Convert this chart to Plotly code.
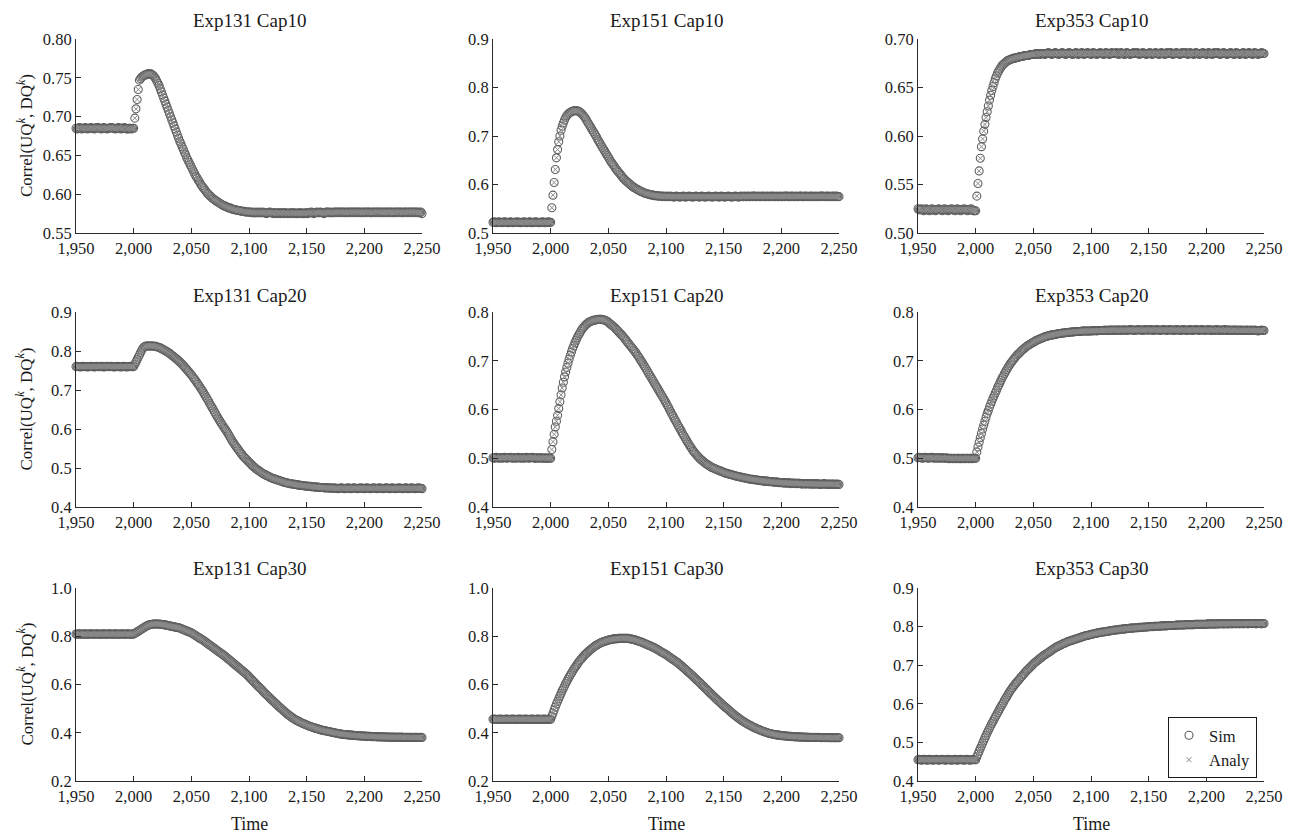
import plotly.graph_objects as go

# ---------------- data (values in thousandths, one per year 1950..2250) ----------------
years = list(range(1950, 2251))

titles = ["Exp131 Cap10", "Exp151 Cap10", "Exp353 Cap10",
          "Exp131 Cap20", "Exp151 Cap20", "Exp353 Cap20",
          "Exp131 Cap30", "Exp151 Cap30", "Exp353 Cap30"]

x_ticks = [1950, 2000, 2050, 2100, 2150, 2200, 2250]

y_ranges = [(0.55, 0.80), (0.5, 0.9), (0.50, 0.70),
            (0.4, 0.9), (0.4, 0.8), (0.4, 0.8),
            (0.2, 1.0), (0.2, 1.0), (0.4, 0.9)]
y_dticks = [0.05, 0.1, 0.05, 0.1, 0.1, 0.1, 0.2, 0.2, 0.1]
y_formats = [".2f", ".1f", ".2f", ".1f", ".1f", ".1f", ".1f", ".1f", ".1f"]

e131_c10 = [
    685,684,685,686,685,684,685,685,686,685,
    684,685,685,686,685,685,684,685,686,686,
    685,685,684,685,686,685,685,684,685,685,
    686,686,685,685,684,685,685,686,685,684,
    685,685,686,685,684,684,685,685,684,685,
    685,698,710,722,735,747,749,751,752,753,
    754,754,755,755,755,755,754,753,751,749,
    746,743,740,736,732,728,724,720,716,712,
    708,704,700,696,692,688,684,680,676,672,
    668,665,661,658,654,651,647,644,641,638,
    635,632,629,626,623,621,618,616,613,611,
    609,607,605,603,601,600,598,597,595,594,
    593,592,591,590,589,588,587,586,585,585,
    584,583,583,582,582,581,581,580,580,580,
    579,579,579,578,578,578,578,577,577,577,
    577,577,576,577,576,576,577,576,576,577,
    576,576,577,576,576,575,576,576,577,576,
    576,575,576,576,575,576,576,575,576,576,
    575,576,576,575,575,576,575,576,576,575,
    576,575,575,576,576,575,576,575,575,576,
    576,575,576,576,577,576,575,576,576,577,
    576,576,577,576,576,575,576,577,577,576,
    577,576,576,577,576,577,577,576,577,577,
    576,577,577,576,577,576,577,577,576,577,
    577,576,577,577,576,577,577,576,577,576,
    577,577,576,577,577,576,577,576,577,577,
    576,577,577,576,577,577,576,577,576,577,
    577,576,577,577,576,577,576,577,577,576,
    577,577,576,577,576,577,577,576,577,577,
    576,577,577,576,577,577,576,577,576,577,
    575]

e151_c10 = [
    522,523,522,521,522,523,522,522,521,522,
    523,522,522,521,522,523,522,521,522,522,
    522,523,522,522,521,522,522,523,522,521,
    522,522,523,522,521,522,522,523,522,522,
    521,522,522,523,522,521,522,522,523,522,
    522,552,578,604,631,655,672,688,700,712,
    720,727,733,738,742,745,747,749,750,751,
    752,752,752,752,751,750,748,746,743,740,
    737,733,729,725,721,717,713,709,705,701,
    697,692,688,684,680,676,672,668,664,660,
    656,652,648,645,641,638,634,631,628,625,
    622,619,616,613,611,608,606,604,602,600,
    598,596,594,593,591,590,589,587,586,585,
    584,583,582,581,581,580,579,579,578,578,
    577,577,577,576,576,576,576,575,576,575,
    575,576,575,575,576,575,575,574,575,576,
    575,575,574,575,575,576,575,574,575,575,
    576,575,575,574,575,575,576,575,575,574,
    575,576,575,575,574,575,575,576,575,575,
    574,575,575,576,575,575,574,575,576,575,
    575,574,575,575,576,575,575,574,575,575,
    576,575,575,574,575,576,575,575,576,575,
    575,576,575,575,576,575,576,576,575,575,
    576,575,575,576,575,576,575,575,576,575,
    575,576,575,576,575,575,576,575,575,576,
    575,575,576,575,576,576,575,575,576,575,
    576,575,575,576,575,575,576,576,575,575,
    576,575,576,575,575,576,575,576,575,575,
    576,575,575,576,575,576,576,575,575,576,
    575,576,575,575,576,575,576,575,576,575,
    575]

e353_c10 = [
    525,524,524,525,524,523,524,525,524,524,
    523,524,525,524,524,523,524,524,525,524,
    524,523,524,525,524,524,523,524,524,525,
    524,524,523,524,525,524,524,523,524,524,
    525,524,524,523,524,524,525,524,523,523,
    523,538,551,564,577,589,597,605,612,619,
    625,631,637,642,647,651,655,659,662,665,
    667,669,671,673,674,675,676,677,678,678,
    679,679,680,680,680,681,681,681,682,682,
    682,682,683,683,683,683,683,684,684,684,
    684,684,685,684,685,685,684,685,685,685,
    684,685,685,686,685,685,684,685,685,686,
    685,685,684,685,685,686,685,685,684,685,
    685,686,685,685,684,685,685,686,685,684,
    685,685,686,685,684,685,685,686,685,685,
    684,685,686,685,685,684,685,685,686,685,
    685,684,685,686,685,685,684,685,686,685,
    685,685,686,685,684,685,686,685,685,684,
    685,686,685,685,684,685,685,686,685,685,
    686,685,684,685,685,686,685,685,684,685,
    685,686,685,684,685,685,686,685,685,684,
    685,686,685,685,684,685,686,685,685,686,
    685,684,685,685,686,685,685,684,685,686,
    685,685,686,685,684,685,686,685,685,684,
    685,686,685,685,684,685,685,686,685,685,
    684,685,686,685,685,684,685,686,685,685,
    686,685,684,685,685,686,685,685,684,685,
    685,686,685,685,684,685,686,685,685,684,
    685,685,686,685,684,685,685,686,685,685,
    684,685,686,685,685,684,685,685,686,685,
    685]

e131_c20 = [
    760,761,760,760,759,760,761,760,760,760,
    759,760,760,761,760,760,759,760,761,760,
    760,760,761,760,759,760,760,761,760,760,
    761,760,760,759,760,760,761,760,760,759,
    760,761,760,760,759,760,760,761,760,760,
    760,766,772,778,784,790,796,802,807,810,
    812,813,813,813,813,813,813,813,812,812,
    811,810,809,808,806,805,803,801,800,798,
    796,794,792,789,787,785,782,780,777,775,
    772,769,766,763,760,756,753,749,746,742,
    739,735,731,727,723,718,714,710,705,701,
    696,691,686,681,676,671,665,660,655,650,
    644,639,634,629,624,619,614,610,605,601,
    597,592,587,582,577,572,567,563,558,554,
    550,546,542,538,534,530,527,524,521,518,
    515,512,509,506,503,501,498,496,494,492,
    490,488,486,484,483,481,480,478,477,475,
    474,473,472,471,470,469,468,467,466,465,
    464,463,462,462,461,460,460,459,459,458,
    458,457,457,456,456,455,455,455,454,454,
    454,453,453,453,452,452,452,451,451,451,
    451,450,450,450,450,449,449,449,449,449,
    448,449,448,448,449,448,448,447,448,448,
    449,448,448,447,448,448,449,448,447,448,
    448,449,448,448,447,448,448,449,448,448,
    447,448,449,448,448,447,448,448,449,448,
    448,447,448,449,448,448,447,448,448,449,
    448,448,447,448,449,448,448,447,448,448,
    449,448,448,447,448,448,449,448,447,448,
    448,449,448,448,447,448,448,449,448,448,
    447]

e151_c20 = [
    501,500,501,502,501,500,501,501,500,501,
    502,501,500,501,501,502,501,500,501,501,
    500,501,502,501,500,501,501,500,501,502,
    501,500,501,501,502,501,500,500,501,501,
    500,501,501,500,500,501,500,500,501,500,
    500,518,534,549,564,576,588,602,616,630,
    644,656,667,677,686,695,703,711,718,725,
    731,737,742,747,752,756,760,764,767,770,
    773,775,777,779,780,781,782,783,783,784,
    784,785,785,785,785,784,784,783,782,781,
    779,777,775,773,771,769,767,764,762,759,
    757,754,752,749,746,743,740,737,734,731,
    728,725,722,719,716,712,709,705,701,698,
    694,690,686,682,678,674,670,666,662,658,
    654,650,646,642,638,634,630,626,622,618,
    614,609,605,600,596,591,587,582,578,574,
    569,565,561,557,552,548,544,540,536,532,
    528,524,521,517,514,511,508,505,503,500,
    498,496,494,492,490,488,487,485,484,482,
    481,480,479,478,477,476,475,474,473,472,
    471,470,469,469,468,467,467,466,465,465,
    464,463,463,462,462,461,461,460,460,459,
    459,458,458,457,457,457,456,456,456,455,
    455,455,454,454,454,453,453,453,453,452,
    452,452,452,451,451,451,451,451,450,450,
    450,450,449,450,449,449,450,449,448,449,
    449,448,449,448,448,449,448,448,447,448,
    448,447,448,448,447,448,447,447,448,447,
    447,448,447,447,446,447,447,448,447,447,
    446,447,447,446,447,447,446,447,446,447,
    446]

e353_c20 = [
    501,502,501,501,500,501,502,501,501,500,
    501,501,502,501,500,501,501,500,501,501,
    500,501,501,500,500,501,500,499,500,500,
    499,500,500,499,500,500,499,500,499,500,
    500,499,500,500,499,500,500,499,500,500,
    500,513,523,533,542,551,560,568,576,584,
    592,598,605,611,617,623,628,634,639,645,
    650,655,660,665,669,674,678,682,686,690,
    694,697,700,703,706,709,712,714,716,719,
    721,723,725,727,729,731,732,734,735,737,
    738,739,741,742,743,744,745,746,747,748,
    749,750,750,751,752,752,753,753,754,754,
    755,755,756,756,756,757,757,757,758,758,
    758,758,759,759,759,759,760,760,760,760,
    760,760,761,761,761,761,761,761,761,761,
    761,762,761,762,762,761,762,762,762,762,
    762,762,763,762,762,763,762,763,763,762,
    763,763,762,763,763,763,762,763,763,763,
    763,762,763,763,764,763,763,763,762,763,
    763,764,763,763,763,762,763,764,763,763,
    763,763,764,763,762,763,763,764,763,763,
    762,763,763,764,763,763,762,763,764,763,
    763,763,762,763,764,763,763,763,762,763,
    764,763,763,762,763,763,764,763,762,763,
    763,764,763,763,762,763,764,763,763,762,
    763,763,764,763,762,763,763,762,763,764,
    763,762,763,763,762,763,764,763,762,763,
    763,762,763,762,763,763,762,763,762,763,
    762,763,762,762,763,762,763,762,762,763,
    762,762,763,762,762,761,762,762,763,762,
    762]

e131_c30 = [
    809,808,809,810,809,808,809,809,810,809,
    808,809,809,810,809,809,808,809,810,809,
    809,808,809,809,810,809,808,809,809,810,
    809,809,808,809,810,809,809,808,809,809,
    810,809,808,809,809,810,809,808,809,809,
    809,812,815,818,821,824,827,830,833,836,
    839,842,844,846,848,849,850,851,851,851,
    851,851,851,850,850,849,848,847,846,845,
    844,843,842,841,840,839,838,837,836,835,
    834,832,830,828,826,824,822,820,818,816,
    814,811,808,805,802,799,796,793,790,787,
    784,781,777,774,770,767,763,760,756,753,
    749,746,742,739,735,732,728,725,721,718,
    714,710,706,702,698,694,690,686,682,678,
    674,670,666,662,658,654,650,646,642,637,
    632,627,622,617,612,607,602,597,592,588,
    583,578,573,568,563,558,554,549,544,540,
    535,531,526,522,517,513,508,504,500,495,
    491,487,483,479,475,471,468,464,461,458,
    455,452,450,447,445,442,440,438,436,434,
    432,430,428,426,425,423,421,420,418,417,
    415,414,412,411,410,409,408,407,406,405,
    404,403,402,401,400,399,398,397,396,395,
    395,394,393,393,392,392,391,391,390,390,
    389,389,388,388,388,387,387,387,386,386,
    386,386,385,385,385,385,384,384,384,384,
    384,383,383,383,383,383,382,383,382,382,
    382,382,382,381,382,381,382,381,381,382,
    381,381,382,381,381,380,381,381,380,381,
    381,380,381,380,381,381,380,381,380,381,
    380]

e151_c30 = [
    456,457,456,456,455,456,457,456,456,455,
    456,456,457,456,455,456,456,457,456,456,
    455,456,456,457,456,456,455,456,457,456,
    456,455,456,456,457,456,455,456,456,457,
    456,456,455,456,457,456,456,455,456,456,
    456,468,481,494,507,519,530,541,552,563,
    574,584,594,604,613,622,631,639,647,655,
    663,670,677,684,691,698,703,709,714,720,
    725,729,734,738,742,746,750,754,758,761,
    764,767,769,772,774,776,778,779,781,782,
    784,785,786,787,788,789,789,790,790,791,
    791,791,792,792,792,792,791,791,790,789,
    788,787,786,785,783,782,780,778,777,775,
    773,771,769,767,765,763,761,758,756,754,
    752,749,746,744,741,738,735,732,729,727,
    724,721,717,714,711,707,704,701,697,694,
    691,687,683,679,675,670,666,662,658,653,
    649,645,640,636,631,627,622,618,613,609,
    604,599,595,590,585,580,576,571,566,562,
    557,552,548,543,539,534,530,525,521,516,
    512,508,504,500,496,491,487,483,479,475,
    471,467,464,460,457,453,450,447,444,441,
    438,435,433,430,428,425,423,421,418,416,
    414,412,410,408,406,405,403,401,400,398,
    397,396,395,394,393,392,391,390,390,389,
    388,388,387,387,386,386,385,385,385,384,
    384,384,383,383,383,383,382,382,382,382,
    381,382,381,381,381,380,381,380,380,381,
    380,380,381,380,380,379,380,380,379,380,
    380,379,380,379,379,380,379,379,380,379,
    379]

e353_c30 = [
    455,456,455,454,455,456,455,455,454,455,
    456,455,455,454,455,455,456,455,454,455,
    455,456,455,455,454,455,456,455,455,454,
    455,455,456,455,454,455,455,456,455,455,
    454,455,456,455,455,454,455,455,456,455,
    455,462,470,477,484,491,498,505,512,518,
    525,531,537,543,549,554,560,566,571,577,
    582,588,593,598,603,609,614,619,624,629,
    634,638,642,646,650,654,657,661,664,668,
    671,675,678,682,685,688,691,694,697,700,
    703,706,708,711,713,716,718,720,723,725,
    727,729,731,733,735,737,739,741,743,745,
    747,748,750,751,753,754,756,757,758,760,
    761,762,763,764,765,766,767,768,769,770,
    771,772,773,774,775,776,777,777,778,779,
    780,780,781,782,782,783,784,784,785,785,
    786,786,787,787,788,788,789,789,790,790,
    791,791,791,792,792,793,793,793,794,794,
    794,795,795,795,796,796,796,796,797,797,
    797,797,798,798,798,798,799,799,799,799,
    800,800,800,800,800,801,801,801,801,801,
    801,802,802,802,802,802,802,803,803,803,
    803,803,803,803,804,804,804,804,804,804,
    804,804,805,805,805,805,805,805,805,805,
    806,806,806,806,806,806,806,806,806,806,
    806,807,807,806,807,807,807,806,807,807,
    807,807,807,808,807,807,807,808,807,807,
    808,807,808,807,808,808,807,808,808,807,
    808,808,807,808,808,808,807,808,808,808,
    808,808,808,807,808,808,808,808,807,808,
    808]

sim_series = [e131_c10, e151_c10, e353_c10,
              e131_c20, e151_c20, e353_c20,
              e131_c30, e151_c30, e353_c30]
# Analytical values coincide with the simulated ones at this resolution
analy_series = sim_series

for s in sim_series:
    assert len(s) == len(years), len(s)

# ---------------- layout geometry ----------------
# The page body adds an 8px offset; the figure fills the rest of the window.
OFF = 8
W, H = 1293 - OFF, 835 - OFF
col_px = [(76, 422), (493, 839), (918, 1264)]
row_px = [(39, 233), (312, 507), (588, 781)]
title_y_px = [20, 295, 568]


def px_x(p):
    return (p - OFF) / W


def px_y(p):
    return 1 - (p - OFF) / H


FONT = "Liberation Serif, Times New Roman, serif"
SIM_COLOR = "#5e5e5e"
ANALY_COLOR = "#8a8a8a"
AXIS_COLOR = "#2a2a2a"
TXT = "#1a1a1a"

fig = go.Figure()
annotations = []
layout = {}

for i in range(9):
    r, c = divmod(i, 3)
    n = i + 1
    xa = "x" if n == 1 else f"x{n}"
    ya = "y" if n == 1 else f"y{n}"
    vals = [v / 1000.0 for v in sim_series[i]]
    avals = [v / 1000.0 for v in analy_series[i]]
    show = (i == 8)
    fig.add_trace(go.Scatter(
        x=years, y=vals, mode="markers", name="Sim", legendgroup="sim",
        showlegend=show, xaxis=xa, yaxis=ya, cliponaxis=False,
        marker=dict(symbol="circle-open", size=8, color=SIM_COLOR,
                    line=dict(width=1.1, color=SIM_COLOR))))
    fig.add_trace(go.Scatter(
        x=years, y=avals, mode="markers", name="Analy", legendgroup="analy",
        showlegend=show, xaxis=xa, yaxis=ya, cliponaxis=False,
        marker=dict(symbol="x-thin-open", size=5, color=ANALY_COLOR,
                    line=dict(width=1, color=ANALY_COLOR))))

    x0, x1 = col_px[c]
    y0, y1 = row_px[r]
    xkey = "xaxis" if n == 1 else f"xaxis{n}"
    ykey = "yaxis" if n == 1 else f"yaxis{n}"
    layout[xkey] = dict(
        domain=[px_x(x0), px_x(x1)], range=[1950, 2250], anchor=ya,
        automargin=False,
        tickmode="array", tickvals=x_ticks,
        ticktext=[f"{t:,}" for t in x_ticks],
        ticks="inside", ticklen=5, tickcolor=AXIS_COLOR, tickwidth=1,
        showline=True, linecolor=AXIS_COLOR, linewidth=1, mirror=False,
        showgrid=False, zeroline=False,
        tickfont=dict(family=FONT, size=16.5, color=TXT))
    lo, hi = y_ranges[i]
    layout[ykey] = dict(
        domain=[px_y(y1), px_y(y0)], range=[lo, hi], anchor=xa,
        automargin=False,
        tick0=lo, dtick=y_dticks[i], tickformat=y_formats[i],
        ticks="inside", ticklen=5, tickcolor=AXIS_COLOR, tickwidth=1,
        showline=True, linecolor=AXIS_COLOR, linewidth=1, mirror=False,
        showgrid=False, zeroline=False,
        tickfont=dict(family=FONT, size=16.5, color=TXT))

    annotations.append(dict(
        text=titles[i], xref="paper", yref="paper",
        x=px_x((x0 + x1) / 2), y=px_y(title_y_px[r]),
        xanchor="center", yanchor="middle", showarrow=False,
        font=dict(family=FONT, size=19, color=TXT)))

    if r == 2:
        annotations.append(dict(
            text="Time", xref="paper", yref="paper",
            x=px_x((x0 + x1) / 2), y=px_y(824),
            xanchor="center", yanchor="middle", showarrow=False,
            font=dict(family=FONT, size=18, color=TXT)))
    if c == 0:
        annotations.append(dict(
            text="Correl(UQ<sup><i>k</i></sup>, DQ<sup><i>k</i></sup>)",
            xref="paper", yref="paper",
            x=px_x(25), y=px_y((y0 + y1) / 2), textangle=-90,
            xanchor="center", yanchor="middle", showarrow=False,
            font=dict(family=FONT, size=17, color=TXT)))

fig.update_layout(
    template="none",
    width=W, height=H, autosize=False,
    margin=dict(l=0, r=0, t=0, b=0, pad=0),
    paper_bgcolor="white", plot_bgcolor="white",
    annotations=annotations,
    legend=dict(x=px_x(1168), y=px_y(717), xanchor="left", yanchor="top",
                bgcolor="white", bordercolor=TXT, borderwidth=1,
                font=dict(family=FONT, size=16.5, color=TXT),
                itemwidth=30, tracegroupgap=0),
    **layout)

fig.write_html("out.html")
